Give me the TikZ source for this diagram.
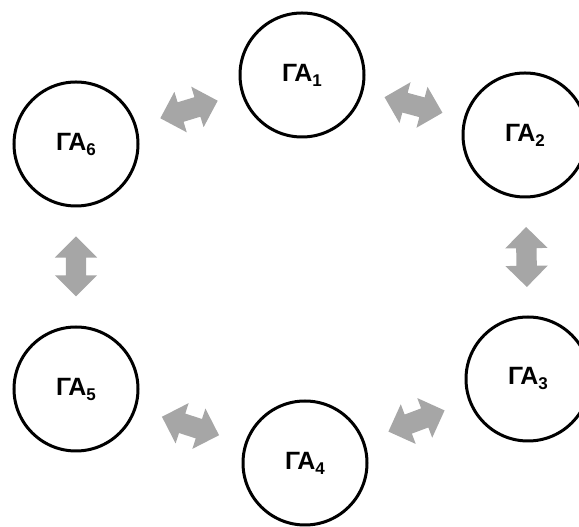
\documentclass[tikz,border=0pt]{standalone}
\usepackage{fontspec}
\setmainfont{Liberation Sans}
\usetikzlibrary{shapes.arrows}

\definecolor{arrowgray}{RGB}{166,166,166}
\newcommand{\galabel}[1]{ΓΑ\raisebox{-5pt}{\fontsize{17}{17}\selectfont #1}}

\begin{document}
\begin{tikzpicture}[x=1pt,y=1pt,
    ga/.style={circle, draw, line width=3pt, minimum size=124pt, inner sep=0pt,
               font=\fontsize{25}{25}\selectfont\bfseries},
    link/.style={double arrow, fill=arrowgray, draw=none, sloped,
                 inner xsep=0pt, inner ysep=10pt,
                 minimum height=60pt, double arrow head extend=11pt},
    every edge/.style={draw=none}]
   \useasboundingbox (0,0) rectangle (579,527);
   \node[ga] (ga1) at (302,452) {\galabel{1}};
   \node[ga] (ga2) at (525,392) {\galabel{2}};
   \node[ga] (ga3) at (528,148) {\galabel{3}};
   \node[ga] (ga4) at (305,64)  {\galabel{4}};
   \node[ga] (ga5) at (76,138)  {\galabel{5}};
   \node[ga] (ga6) at (76,383)  {\galabel{6}};
   \path
        (ga6) edge node[link] {} (ga1)
        (ga1) edge node[link] {} (ga2)
        (ga2) edge node[link] {} (ga3)
        (ga3) edge node[link] {} (ga4)
        (ga4) edge node[link] {} (ga5)
        (ga5) edge node[link] {} (ga6)
        ;
\end{tikzpicture}
\end{document}
